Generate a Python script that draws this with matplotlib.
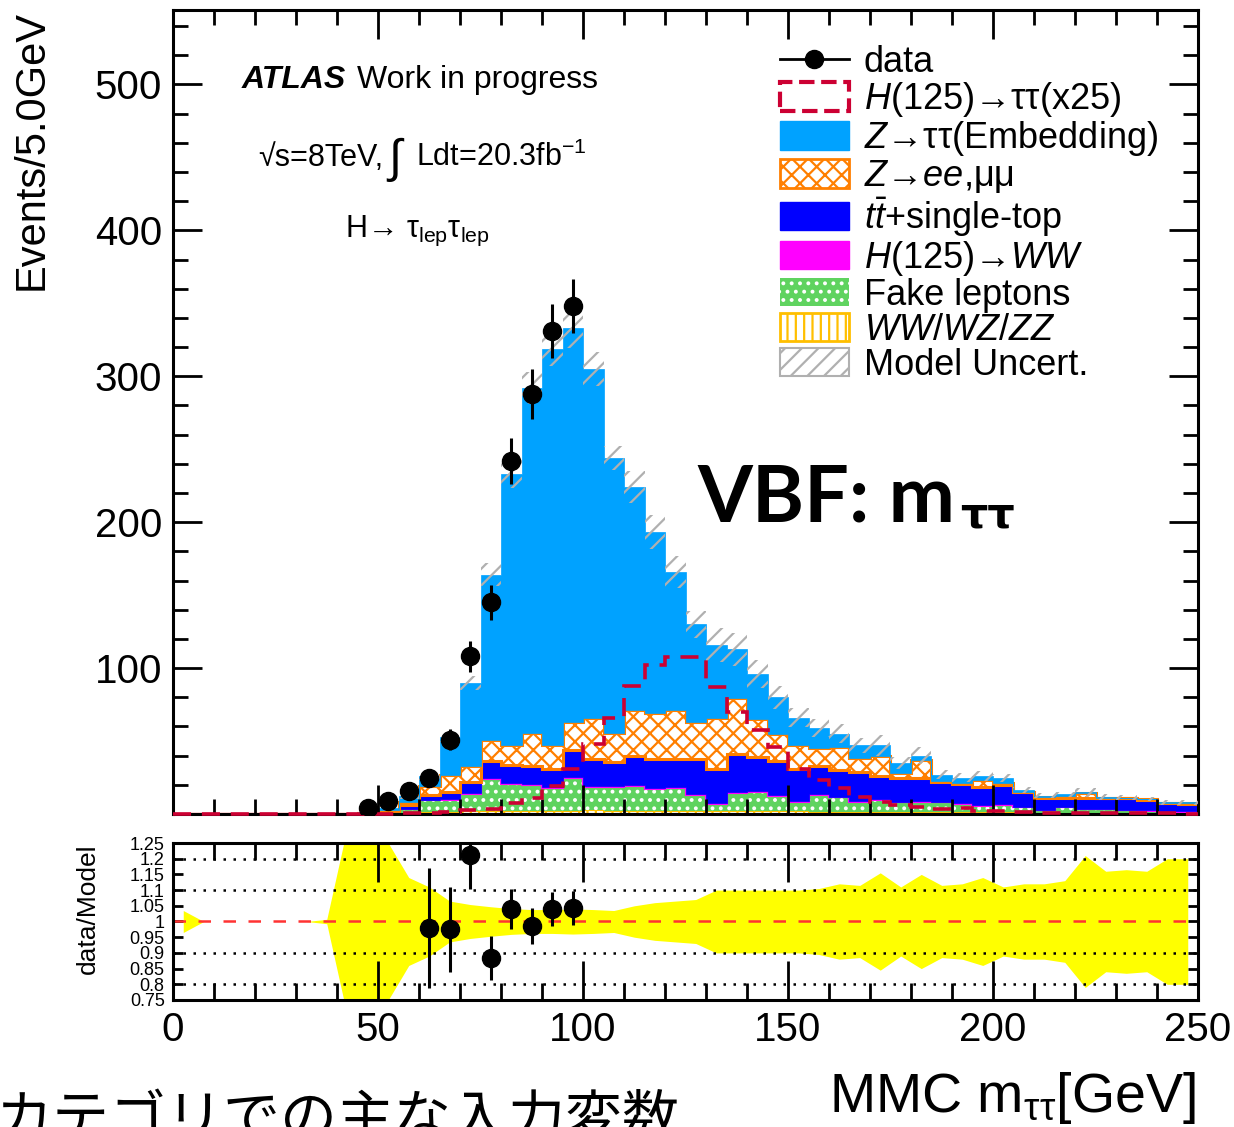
import numpy as np
import matplotlib
matplotlib.use("Agg")
import matplotlib.pyplot as plt
from matplotlib.patches import Patch
from matplotlib.lines import Line2D
from matplotlib.ticker import MultipleLocator, FixedLocator

plt.rcParams['font.family'] = ['Liberation Sans', 'DejaVu Sans']
plt.rcParams['mathtext.fontset'] = 'custom'
plt.rcParams['mathtext.rm'] = 'Liberation Sans'
plt.rcParams['mathtext.it'] = 'Liberation Sans:italic'
plt.rcParams['mathtext.bf'] = 'Liberation Sans:bold'
plt.rcParams['hatch.linewidth'] = 1.6

# 5 GeV bins, 0-250 GeV
edges = np.arange(0, 255, 5)

# stacked backgrounds (events per bin), bottom to top
diboson = [0, 0, 0, 0, 0, 0, 0, 0, 0, 0.1,
           0.3, 0.6, 1.2, 1.5, 1.8, 2.0, 2.2, 2.2, 2.3, 2.3,
           2.4, 2.3, 2.3, 2.2, 2.2, 2.1, 2.0, 2.0, 1.9, 1.8,
           1.8, 1.7, 1.6, 1.6, 1.5, 1.5, 1.4, 1.3, 1.3, 1.2,
           1.2, 1.1, 1.0, 1.0, 0.9, 0.9, 0.8, 0.8, 0.7, 0.7]
fakes = [0, 0, 0, 0, 0, 0, 0, 0, 0, 0.2,
         0.5, 2.9, 8.2, 8.1, 12.2, 22.0, 18.2, 17.7, 15.8, 22.6,
         16.0, 16.1, 17.1, 15.0, 15.7, 11.0, 4.9, 12.4, 13.2, 10.6,
         6.6, 11.5, 9.8, 6.9, 8.0, 6.4, 7.0, 6.6, 5.5, 4.3,
         5.1, 3.4, 1.7, 3.5, 2.2, 2.2, 1.9, 1.5, 1.0, 1.0]
hww = [0, 0, 0, 0, 0, 0, 0, 0, 0, 0,
       0, 0, 0.2, 0.4, 0.6, 0.6, 0.6, 0.6, 0.6, 0.6,
       0.6, 0.6, 0.6, 0.6, 0.6, 0.6, 0.6, 0.6, 0.6, 0.6,
       0.6, 0.5, 0.5, 0.5, 0.5, 0.5, 0.5, 0.5, 0.5, 0.5,
       0.5, 0.3, 0.3, 0.3, 0.3, 0.3, 0.3, 0.3, 0.3, 0.3]
ttbar = [0, 0, 0, 0, 0, 0, 0, 0, 0, 0.3,
         0.7, 2.5, 3.4, 5.0, 7.4, 11.4, 12.5, 12.5, 12.3, 18.5,
         18.7, 16.6, 20.0, 19.9, 19.5, 24.3, 23.5, 26.0, 23.3, 23.0,
         22.0, 19.3, 18.1, 19.6, 16.0, 16.2, 16.0, 13.3, 13.2, 12.5,
         13.2, 10.2, 7.8, 6.5, 7.9, 7.4, 7.8, 7.2, 5.3, 5.0]
zll = [0, 0, 0, 0, 0, 0, 0, 0, 0, 0.4,
       1.5, 2.5, 6.0, 12.0, 11.0, 15.0, 13.5, 22.5, 16.0, 19.0,
       27.8, 19.9, 31.0, 31.3, 33.0, 25.0, 34.7, 38.7, 26.0, 19.0,
       16.0, 12.0, 16.0, 9.9, 14.0, 3.4, 12.1, 1.1, 0.9, 4.5,
       1.0, 0.3, 1.0, 0.9, 2.9, 0.5, 0.2, 0.4, 0.2, 0.3]
ztt = [0.02, 0, 0, 0, 0, 0, 0, 0.05, 0.2, 0.5,
       1.0, 3.5, 7.0, 26.0, 57.0, 113.0, 186.0, 236.5, 272.0, 270.0,
       239.5, 188.5, 153.0, 124.0, 95.0, 67.0, 50.3, 33.3, 31.0, 25.0,
       19.0, 14.0, 9.0, 8.5, 7.0, 7.0, 3.0, 4.2, 3.6, 3.0,
       3.6, 1.4, 0.8, 1.4, 0.8, 0.4, 0.3, 0.1, 0.5, 0.6]
# signal H->tautau scaled x25 (not stacked)
htt_x25 = [0, 0, 0, 0, 0, 0, 0, 0, 0, 0.1,
           0.2, 0.5, 1.0, 1.5, 3.0, 3.4, 7.5, 11.0, 19.0, 31.0,
           48.0, 66.0, 88.0, 102.0, 107.5, 107.5, 87.0, 70.0, 57.5, 46.0,
           31.0, 23.0, 17.8, 11.6, 8.4, 6.0, 4.7, 3.6, 4.0, 2.3,
           1.8, 1.4, 1.0, 0.8, 0.8, 0.6, 0.5, 0.5, 0.4, 0.3]
# relative model uncertainty per bin
model_unc = [0.035, 0, 0, 0, 0, 0, 0, 0.007, 0.30, 0.30,
             0.25, 0.14, 0.11, 0.065, 0.054, 0.047, 0.041, 0.038, 0.038, 0.040,
             0.038, 0.035, 0.050, 0.060, 0.065, 0.070, 0.100, 0.100, 0.100, 0.100,
             0.100, 0.105, 0.120, 0.115, 0.155, 0.110, 0.150, 0.115, 0.120, 0.140,
             0.110, 0.120, 0.120, 0.130, 0.210, 0.160, 0.165, 0.160, 0.200, 0.200]

# data (blinded above 100 GeV)
data_x = [47.5, 52.5, 57.5, 62.5, 67.5, 72.5, 77.5, 82.5, 87.5, 92.5, 97.5]
data_y = [4, 9, 16, 25, 51, 108, 145, 242, 288, 331, 348]
data_err = [2.0, 3.0, 4.0, 5.0, 7.1, 10.4, 12.0, 15.6, 17.0, 18.2, 18.7]

ratio_x = [62.5, 67.5, 72.5, 77.5, 82.5, 87.5, 92.5, 97.5]
ratio_y = [0.979, 0.975, 1.212, 0.883, 1.040, 0.986, 1.040, 1.043]
ratio_err = [0.19, 0.135, 0.11, 0.07, 0.065, 0.057, 0.055, 0.053]
ratio_ticks = [0.75, 0.8, 0.85, 0.9, 0.95, 1.0, 1.05, 1.1, 1.15, 1.2, 1.25]
ratio_ticklabels = ['0.75', '0.8', '0.85', '0.9', '0.95', '1', '1.05', '1.1', '1.15', '1.2', '1.25']

W, H = 1234, 1127
def px(x, y):
    return x / W, 1 - y / H

fig = plt.figure(figsize=(W / 100, H / 100), dpi=100)
ax = fig.add_axes([173 / W, 1 - 814 / H, 1025 / W, 804 / H])
rx = fig.add_axes([173 / W, 1 - 1000 / H, 1025 / W, 157 / H])

# stack
styles = [
    (diboson, dict(facecolor='white', edgecolor='#ffbf00', hatch='||', lw=1.5)),
    (fakes, dict(facecolor='#5fd35f', edgecolor='white', hatch='..', lw=0)),
    (hww, dict(facecolor='#ff00ff', edgecolor='#ff00ff', lw=1.5)),
    (ttbar, dict(facecolor='#0000ff', edgecolor='#0000ff', lw=0.5)),
    (zll, dict(facecolor='white', edgecolor='#ff7f00', hatch='xx', lw=2.2)),
    (ztt, dict(facecolor='#00a2ff', edgecolor='#00a2ff', lw=0.5)),
]
bottom = np.zeros(len(edges) - 1)
for vals, st in styles:
    vals = np.array(vals)
    ax.stairs(bottom + vals, edges, baseline=bottom, fill=True, **st)
    bottom = bottom + vals
total = bottom

unc = total * np.array(model_unc)
ax.stairs(total + unc, edges, baseline=total - unc, fill=True,
          facecolor='none', edgecolor='#b0b0b0', hatch='//', lw=0, zorder=3)

ax.stairs(htt_x25, edges, color='#cc0033', lw=2.6, ls=(0, (5, 3)), zorder=5, clip_on=False)

ax.errorbar(data_x, data_y, yerr=data_err, fmt='o', color='black', ms=13,
            elinewidth=2.2, capsize=0, zorder=10)

ax.set_xlim(0, 250)
ax.set_ylim(0, 551)
ax.yaxis.set_major_locator(FixedLocator([100, 200, 300, 400, 500]))
ax.yaxis.set_minor_locator(MultipleLocator(20))
ax.xaxis.set_major_locator(MultipleLocator(50))
ax.xaxis.set_minor_locator(MultipleLocator(10))
ax.tick_params(which='both', direction='in', top=True, right=True, width=2, labelbottom=False)
ax.tick_params(which='major', length=21, labelsize=29, pad=8)
ax.tick_params(which='minor', length=11)
for s in ax.spines.values():
    s.set_linewidth(2.2)
ax.set_ylabel('Events/5.0GeV', loc='top', fontsize=30)
ax.yaxis.set_label_coords(-(173 - 52) / 1025, 1.0)

# legend
handles = [
    Line2D([], [], color='black', marker='o', ms=13, lw=2),
    Patch(facecolor='white', edgecolor='#cc0033', ls='--', lw=3),
    Patch(facecolor='#00a2ff', edgecolor='#00a2ff'),
    Patch(facecolor='white', edgecolor='#ff7f00', hatch='xx', lw=2),
    Patch(facecolor='#0000ff', edgecolor='#0000ff'),
    Patch(facecolor='#ff00ff', edgecolor='#ff00ff'),
    Patch(facecolor='#5fd35f', edgecolor='white', hatch='..', lw=0),
    Patch(facecolor='white', edgecolor='#ffbf00', hatch='||', lw=2),
    Patch(facecolor='white', edgecolor='#b0b0b0', hatch='//', lw=1.5),
]
labels = ['data', '$H$(125)→ττ(x25)', '$Z$→ττ(Embedding)', '$Z$→$ee$,μμ',
          r'$t\bar{t}$+single-top', '$H$(125)→$WW$', 'Fake leptons',
          '$WW/WZ/ZZ$', 'Model Uncert.']
ax.legend(handles, labels, loc='upper left', bbox_to_anchor=px(780, 45),
          bbox_transform=fig.transFigure, frameon=False, fontsize=26,
          borderpad=0, borderaxespad=0, handlelength=1.9, handleheight=0.82,
          handletextpad=0.42, labelspacing=0.0)

# annotations
fig.text(*px(242, 88), 'ATLAS', fontsize=23, weight='bold', style='italic', va='baseline')
fig.text(*px(357, 88), 'Work in progress', fontsize=23, va='baseline')
fig.text(*px(258, 166), '√s=8TeV,', fontsize=22, va='baseline')
fig.text(*px(388, 172), '∫', fontsize=34, va='baseline')
fig.text(*px(416, 166), 'Ldt=20.3fb$^{-1}$', fontsize=22, va='baseline')
fig.text(*px(345, 237), 'H→ τ$_{\\mathrm{lep}}$τ$_{\\mathrm{lep}}$', fontsize=22, va='baseline')
fig.text(*px(697, 522), 'VBF: m', fontsize=57, weight='bold',
         family=['Lato', 'DejaVu Sans'], va='baseline')
fig.text(*px(960, 527), 'ττ', fontsize=31, weight='bold',
         family=['DejaVu Sans'], va='baseline')

# ratio panel
centers = (edges[:-1] + edges[1:]) / 2
mu = np.array(model_unc)
rx.fill_between(centers, 1 - mu, 1 + mu, color='#ffff00', lw=0)
for yl in [0.8, 0.9, 1.1, 1.2]:
    rx.axhline(yl, color='black', ls=(0, (1, 3)), lw=1.8)
rx.axhline(1.0, color='#ff3333', ls=(0, (5, 5)), lw=1.8)
rx.errorbar(ratio_x, ratio_y, yerr=ratio_err, fmt='o', color='black', ms=13,
            elinewidth=2.2, capsize=0, zorder=10)
rx.set_xlim(0, 250)
rx.set_ylim(0.75, 1.25)
rx.set_yticks(ratio_ticks)
rx.set_yticklabels(ratio_ticklabels)
rx.xaxis.set_major_locator(MultipleLocator(50))
rx.xaxis.set_minor_locator(MultipleLocator(10))
rx.tick_params(which='both', direction='in', top=True, right=True, width=2)
rx.tick_params(axis='x', which='major', length=28, labelsize=29, pad=8)
rx.tick_params(axis='x', which='minor', length=12)
rx.tick_params(axis='y', which='major', length=7, labelsize=13, pad=6)
for s in rx.spines.values():
    s.set_linewidth(2.2)
rx.set_ylabel('data/Model', loc='top', fontsize=19)
rx.yaxis.set_label_coords(-(173 - 100) / 1025, 1.0)

fig.text(*px(1196, 1112), 'MMC m$_{\\mathrm{ττ}}$[GeV]', fontsize=40, ha='right', va='baseline')
fig.text(*px(-4, 1092), 'カテゴリでの主な入力変数', fontsize=41,
         family=['Noto Sans CJK JP', 'DejaVu Sans'], va='top')

fig.savefig('out.png', dpi=100)
